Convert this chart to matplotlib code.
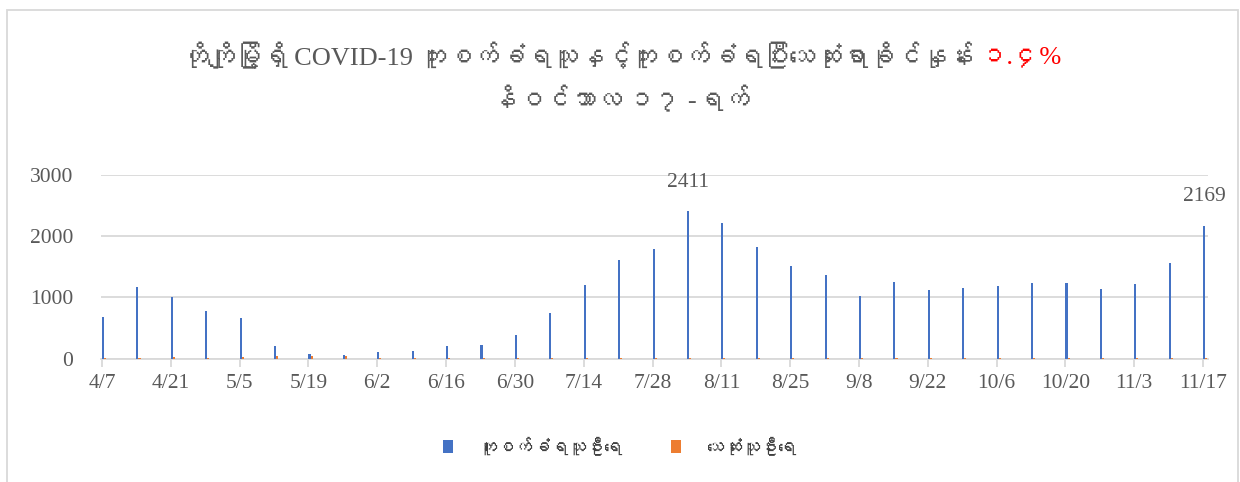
import numpy as np
import matplotlib
matplotlib.use('Agg')
import matplotlib.pyplot as plt
from matplotlib import font_manager
from matplotlib.ft2font import FT2Font
from matplotlib.patches import Rectangle

# weekly dates (2020)
weeks = ['4/7', '4/14', '4/21', '4/28', '5/5', '5/12', '5/19', '5/26', '6/2', '6/9',
         '6/16', '6/23', '6/30', '7/7', '7/14', '7/21', '7/28', '8/4', '8/11', '8/18',
         '8/25', '9/1', '9/8', '9/15', '9/22', '9/29', '10/6', '10/13', '10/20', '10/27',
         '11/3', '11/10', '11/17']
cases = [686, 1162, 1000, 778, 654, 200, 70, 50, 108, 119,
         205, 222, 384, 740, 1205, 1610, 1784, 2411, 2222, 1822,
         1519, 1368, 1027, 1254, 1114, 1146, 1178, 1227, 1227, 1141,
         1216, 1557, 2169]
deaths = [2, 5, 20, 15, 27, 33, 40, 38, 8, 5,
          3, 2, 2, 2, 3, 5, 6, 8, 12, 15,
          12, 10, 9, 8, 6, 8, 6, 5, 5, 7,
          6, 5, 4]
tick_labels = ['4/7', '4/21', '5/5', '5/19', '6/2', '6/16', '6/30', '7/14', '7/28',
               '8/11', '8/25', '9/8', '9/22', '10/6', '10/20', '11/3', '11/17']
labelled = {'8/4': 2411, '11/17': 2169}

title_main = 'တိုကျိုမြို့ရှိ COVID-19 ကူးစက်ခံရသူနှင့်ကူးစက်ခံရပြီးသေဆုံးရာခိုင်နှုန်း '
title_red = '၁.၄%'
subtitle = 'နိဝင်ဘာလ ၁၇ -ရက်'
series_names = ['ကူးစက်ခံရသူဦးရေ', 'သေဆုံးသူဦးရေ']

# look for any installed font that covers Myanmar script
mm_fonts = []
for f in font_manager.fontManager.ttflist:
    try:
        if 0x1000 in FT2Font(f.fname).get_charmap() and f.name not in mm_fonts:
            mm_fonts.append(f.name)
    except Exception:
        pass

serif = ['Liberation Serif'] + mm_fonts + ['DejaVu Sans']
sans = mm_fonts + ['Noto Sans', 'DejaVu Sans']
grey = '#595959'

days = [(np.datetime64('2020-' + '-'.join(w.split('/')[i].zfill(2) for i in (0, 1)))
         - np.datetime64('2020-04-07')).astype(int) for w in weeks]
days = np.array(days, dtype=float)

fig = plt.figure(figsize=(12.4, 4.82), dpi=100)
ax = fig.add_axes([101 / 1240, 1 - 358.5 / 482, 1107 / 1240, 183.5 / 482])

w = 0.42
ax.bar(days, cases, width=w, align='edge', color='#4472C4', label=series_names[0], zorder=3)
ax.bar(days + w, deaths, width=w, align='edge', color='#ED7D31', label=series_names[1], zorder=3)

for name, val in labelled.items():
    x = days[weeks.index(name)]
    ax.annotate(str(val), (x + w / 2, val), xytext=(0, 14), textcoords='offset points',
                ha='center', va='bottom', fontsize=15.5, color=grey, family=serif)

ax.set_ylim(0, 3000)
ax.set_yticks([0, 1000, 2000, 3000])
ax.set_xlim(-0.2, 225)
tick_pos = [days[weeks.index(t)] for t in tick_labels]
ax.set_xticks(tick_pos)
ax.set_xticklabels(tick_labels)
ax.grid(axis='y', color='#d9d9d9', lw=1.3, zorder=0)
for s in ['top', 'right', 'left']:
    ax.spines[s].set_visible(False)
ax.spines['bottom'].set_color('#d9d9d9')
ax.spines['bottom'].set_linewidth(1.3)
ax.tick_params(axis='x', colors='#d9d9d9', length=6, width=1.3, labelcolor=grey, pad=5)
ax.tick_params(axis='y', length=0, labelcolor=grey, pad=20)
for lab in ax.get_xticklabels() + ax.get_yticklabels():
    lab.set_fontfamily(serif)
    lab.set_fontsize(15.5)

# title with red percentage at the end
r = fig.canvas.get_renderer()
t1 = fig.text(0, 1 - 57 / 482, title_main, fontsize=19, color=grey, family=serif, va='center')
t2 = fig.text(0, 1 - 57 / 482, title_red, fontsize=19, color='red', family=serif, va='center')
w1 = t1.get_window_extent(r).width
w2 = t2.get_window_extent(r).width
x0 = (622 - (w1 + w2) / 2) / 1240
t1.set_x(x0)
t2.set_x(x0 + w1 / 1240)
fig.text(0.5, 1 - 100 / 482, subtitle, fontsize=19, color=grey, family=serif,
         ha='center', va='center')

leg = fig.legend(loc='center', bbox_to_anchor=(0.5, 1 - 446 / 482), ncol=2, frameon=False,
                 prop={'family': sans, 'size': 13}, handlelength=0.55, handleheight=0.75,
                 columnspacing=2.7, handletextpad=1.4)
for t in leg.get_texts():
    t.set_color('#404040')

fig.patches.append(Rectangle((7 / 1240, -0.01), 1231 / 1240, 1 - 10 / 482 + 0.01,
                             transform=fig.transFigure, fill=False, ec='#d9d9d9', lw=1.3))

fig.savefig('out.png', dpi=100)
